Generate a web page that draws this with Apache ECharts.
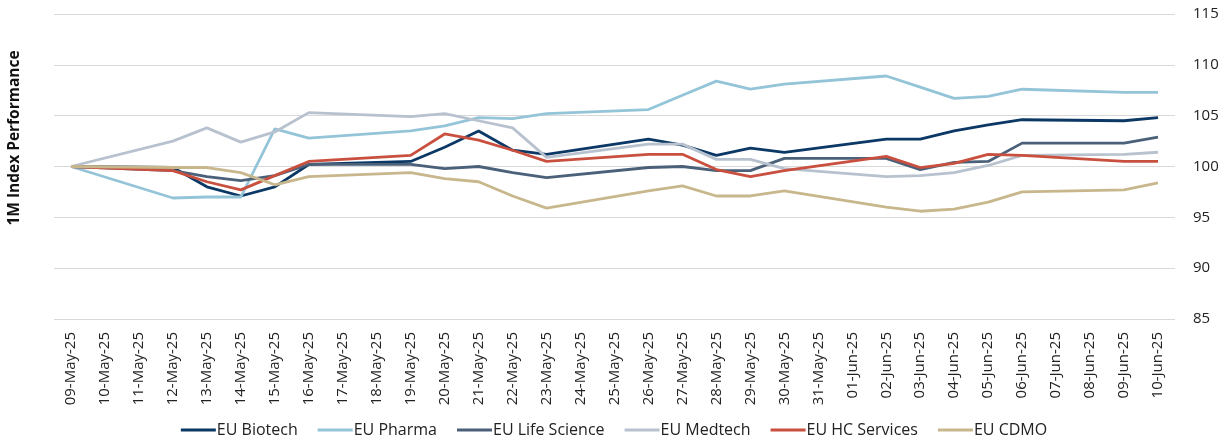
<!DOCTYPE html>
<html>
<head>
<meta charset="utf-8">
<script src="https://cdn.jsdelivr.net/npm/echarts@6/dist/echarts.min.js"></script>
<style>
  html, body { margin: 0; padding: 0; background: #fff; }
  #chart { width: 1228px; height: 445px; }
</style>
</head>
<body>
<div id="chart"></div>
<script>
// dates on the axis (weekends have no values, lines jump over them)
var dates = ['09-May-25', '10-May-25', '11-May-25', '12-May-25', '13-May-25', '14-May-25', '15-May-25',
  '16-May-25', '17-May-25', '18-May-25', '19-May-25', '20-May-25', '21-May-25', '22-May-25', '23-May-25',
  '24-May-25', '25-May-25', '26-May-25', '27-May-25', '28-May-25', '29-May-25', '30-May-25', '31-May-25',
  '01-Jun-25', '02-Jun-25', '03-Jun-25', '04-Jun-25', '05-Jun-25', '06-Jun-25', '07-Jun-25', '08-Jun-25',
  '09-Jun-25', '10-Jun-25']

var biotech = [100, null, null, 99.9, 98.0, 97.1, 98.0, 100.2, null, null, 100.5, 101.9, 103.5, 101.6, 101.2,
  null, null, 102.7, 102.1, 101.1, 101.8, 101.4, null, null, 102.7, 102.7, 103.5, 104.1, 104.6, null, null, 104.5, 104.8]
var pharma = [100, null, null, 96.9, 97.0, 97.0, 103.7, 102.8, null, null, 103.5, 104.0, 104.8, 104.7, 105.2,
  null, null, 105.6, 107.0, 108.4, 107.6, 108.1, null, null, 108.9, 107.8, 106.7, 106.9, 107.6, null, null, 107.3, 107.3]
var lifeScience = [100, null, null, 99.6, 99.0, 98.6, 99.1, 100.2, null, null, 100.2, 99.8, 100.0, 99.4, 98.9,
  null, null, 99.9, 100.0, 99.6, 99.6, 100.8, null, null, 100.8, 99.7, 100.4, 100.5, 102.3, null, null, 102.3, 102.9]
var medtech = [100, null, null, 102.5, 103.8, 102.4, 103.4, 105.3, null, null, 104.9, 105.2, 104.5, 103.8, 100.9,
  null, null, 102.2, 102.2, 100.7, 100.7, 99.8, null, null, 99.0, 99.1, 99.4, 100.1, 101.1, null, null, 101.2, 101.4]
var hcServices = [100, null, null, 99.6, 98.5, 97.7, 99.1, 100.5, null, null, 101.1, 103.2, 102.6, 101.6, 100.5,
  null, null, 101.2, 101.2, 99.7, 99.0, 99.6, null, null, 101.0, 99.9, 100.3, 101.2, 101.1, null, null, 100.5, 100.5]
var cdmo = [100, null, null, 99.9, 99.9, 99.4, 98.2, 99.0, null, null, 99.4, 98.8, 98.5, 97.1, 95.9,
  null, null, 97.6, 98.1, 97.1, 97.1, 97.6, null, null, 96.0, 95.6, 95.8, 96.5, 97.5, null, null, 97.7, 98.4]

var seriesNames = ['EU Biotech', 'EU Pharma', 'EU Life Science', 'EU Medtech', 'EU HC Services', 'EU CDMO']
var seriesData = [biotech, pharma, lifeScience, medtech, hcServices, cdmo]
var colors = ['#0c3866', '#94c4d8', '#4b6079', '#b8c2cf', '#c9503f', '#c8b78c']

var font = 'Open Sans, Noto Sans, sans-serif'

var chart = echarts.init(document.getElementById('chart'))
chart.setOption({
  animation: false,
  color: colors,
  textStyle: { fontFamily: font },
  grid: { left: 54, right: 53, top: 14, bottom: 126 },
  legend: {
    bottom: 2,
    left: 'center',
    icon: 'rect',
    itemWidth: 35,
    itemHeight: 3,
    itemGap: 20,
    textStyle: { fontSize: 16, color: '#222', fontFamily: font, padding: [0, 0, 0, -4] },
    data: seriesNames
  },
  graphic: [{
    type: 'text',
    x: 15,
    y: 138,
    rotation: Math.PI / 2,
    style: {
      text: '1M Index Performance',
      font: 'bold 15.5px ' + font,
      fill: '#111',
      align: 'center',
      verticalAlign: 'middle'
    }
  }],
  xAxis: {
    type: 'category',
    data: dates,
    boundaryGap: true,
    axisLine: { show: false },
    axisTick: { show: false },
    axisLabel: { interval: 0, rotate: 90, fontSize: 15, color: '#222', margin: 13 }
  },
  yAxis: {
    type: 'value',
    position: 'right',
    min: 85,
    max: 115,
    interval: 5,
    axisLine: { show: false },
    axisTick: { show: false },
    axisLabel: { fontSize: 15, color: '#222', margin: 18 },
    splitLine: { lineStyle: { color: '#d9d9d9', width: 1 } }
  },
  series: seriesData.map(function (d, i) {
    return {
      name: seriesNames[i],
      type: 'line',
      data: d,
      connectNulls: true,
      showSymbol: false,
      symbol: 'none',
      lineStyle: { width: 2.8 }
    }
  })
})
</script>
</body>
</html>
